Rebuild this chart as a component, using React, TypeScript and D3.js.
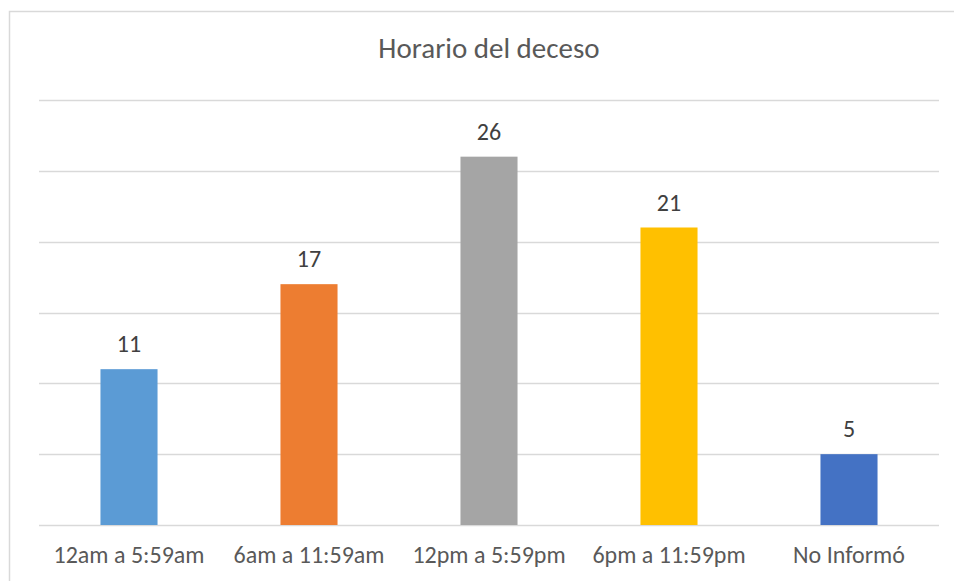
import React from "react";
import * as d3 from "d3";

const categories = ["12am a 5:59am", "6am a 11:59am", "12pm a 5:59pm", "6pm a 11:59pm", "No Informó"];
const values = [11, 17, 26, 21, 5];
const colors = ["#5B9BD5", "#ED7D31", "#A5A5A5", "#FFC000", "#4472C4"];
const gridTicks = [0, 5, 10, 15, 20, 25, 30];

const W = 954;
const H = 581;
const margin = { top: 100, right: 15, bottom: 56, left: 39 };

const App: React.FC = () => {
  const x = d3
    .scaleBand<string>()
    .domain(categories)
    .range([margin.left, W - margin.right])
    .paddingInner(0.683)
    .paddingOuter(0.683 / 2);

  const y = d3
    .scaleLinear()
    .domain([0, 30])
    .range([H - margin.bottom, margin.top]);

  const font = "Carlito, Calibri, Lato, sans-serif";

  return (
    <svg width={W} height={H} style={{ position: "absolute", left: 0, top: 0 }} fontFamily={font}>
      <rect x={0} y={0} width={W} height={H} fill="#fff" />
      {/* borde del gráfico */}
      <rect x={9.5} y={11.5} width={W + 10} height={H + 10} fill="none" stroke="#D9D9D9" strokeWidth={1.5} />
      <text x={489} y={58} textAnchor="middle" fontSize={29} fill="#595959">
        Horario del deceso
      </text>
      {gridTicks.map((t) => (
        <line
          key={t}
          x1={margin.left}
          x2={W - margin.right}
          y1={Math.round(y(t)) + 0.5}
          y2={Math.round(y(t)) + 0.5}
          stroke="#D9D9D9"
          strokeWidth={1.3}
        />
      ))}
      {categories.map((c, i) => (
        <g key={c}>
          <rect
            x={x(c)}
            y={y(values[i])}
            width={x.bandwidth()}
            height={y(0) - y(values[i])}
            fill={colors[i]}
          />
          <text
            x={(x(c) ?? 0) + x.bandwidth() / 2}
            y={y(values[i]) - 17}
            textAnchor="middle"
            fontSize={24}
            fill="#404040"
          >
            {values[i]}
          </text>
          <text
            x={(x(c) ?? 0) + x.bandwidth() / 2}
            y={563}
            textAnchor="middle"
            fontSize={24}
            fill="#595959"
          >
            {c}
          </text>
        </g>
      ))}
    </svg>
  );
};

export default App;
